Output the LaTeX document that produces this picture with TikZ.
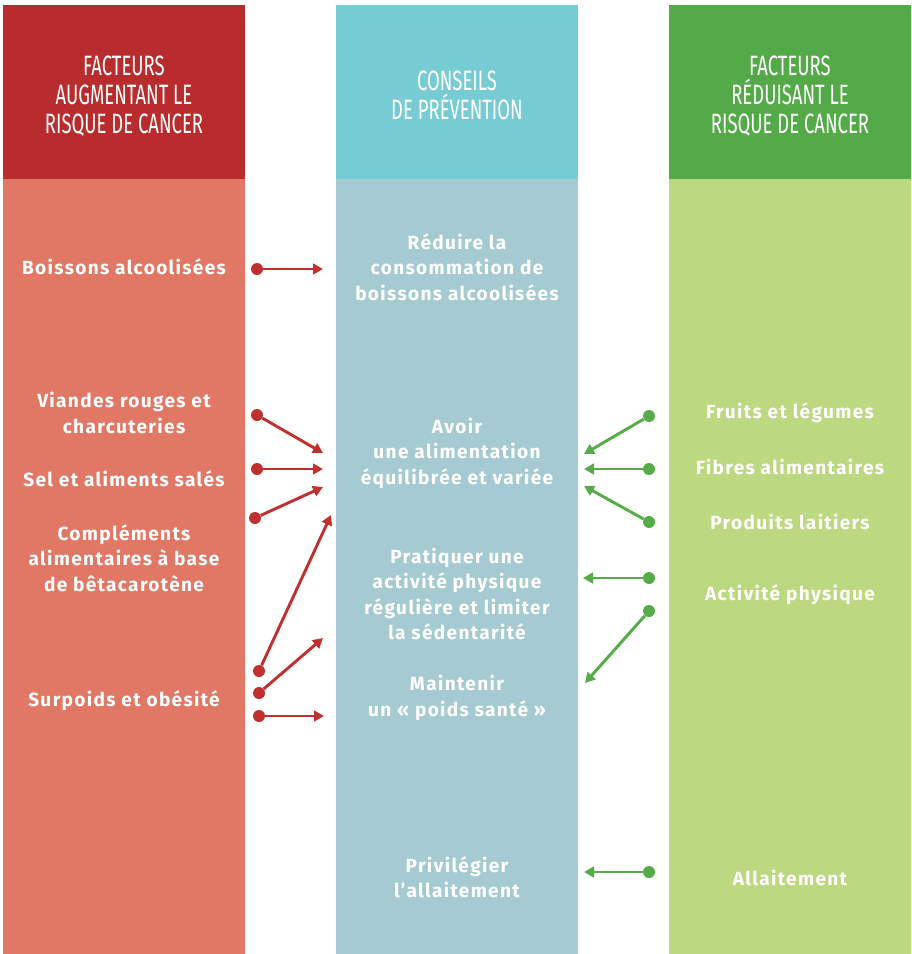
\documentclass[tikz,border=0pt]{standalone}
\usepackage{fontspec}
\setmainfont{Fira Sans}
\newfontfamily\headfont{Fira Sans}
\newfontfamily\bodyfont[LetterSpace=7]{Fira Sans Bold}
\usetikzlibrary{arrows.meta}
\definecolor{hdred}{HTML}{B82C2E}
\definecolor{bdred}{HTML}{E07865}
\definecolor{hdteal}{HTML}{77CCD3}
\definecolor{bdteal}{HTML}{A5CAD2}
\definecolor{hdgreen}{HTML}{54A948}
\definecolor{bdgreen}{HTML}{BCD880}
\definecolor{arred}{HTML}{C0302F}
\definecolor{argreen}{HTML}{55AC48}
\newcommand{\hdtxt}[1]{\scalebox{0.66}[1]{#1}}
\begin{document}
\begin{tikzpicture}[x=0.75pt,y=-0.75pt,
  headtext/.style={text=white,align=center,font=\headfont\fontsize{21}{21.75}\selectfont},
  bodytext/.style={text=white,align=center,font=\bodyfont\fontsize{14.3}{19.2}\selectfont},
  reddot/.style={circle,fill=arred,inner sep=0pt,minimum size=9pt},
  greendot/.style={circle,fill=argreen,inner sep=0pt,minimum size=9pt},
  redarrow/.style={draw=arred,line width=2.2pt,-{Triangle[length=7.5pt,width=8pt]}},
  greenarrow/.style={draw=argreen,line width=2.2pt,-{Triangle[length=7.5pt,width=8pt]}}]
\useasboundingbox (0,0) rectangle (912,954);
% columns
\fill[hdred] (3,5) rectangle (245,179);
\fill[bdred] (3,179) rectangle (245,954);
\fill[hdteal] (336,5) rectangle (578,179);
\fill[bdteal] (336,179) rectangle (578,954);
\fill[hdgreen] (669,5) rectangle (911,179);
\fill[bdgreen] (669,179) rectangle (911,954);
% headers
\node[headtext] (h1) at (124,96) {\hdtxt{FACTEURS}\\\hdtxt{AUGMENTANT LE}\\\hdtxt{RISQUE DE CANCER}};
\node[headtext] (h2) at (457,95) {\hdtxt{CONSEILS}\\\hdtxt{DE PRÉVENTION}};
\node[headtext] (h3) at (790,96) {\hdtxt{FACTEURS}\\\hdtxt{RÉDUISANT LE}\\\hdtxt{RISQUE DE CANCER}};
% left texts
\node[bodytext] (l1) at (124,267) {Boissons alcoolisées};
\node[bodytext] (l2) at (124,413) {Viandes rouges et\\charcuteries};
\node[bodytext] (l3) at (124,479) {Sel et aliments salés};
\node[bodytext] (l4) at (124,558) {Compléments\\alimentaires à base\\de bêtacarotène};
\node[bodytext] (l5) at (124,701) {Surpoids et obésité};
% middle texts
\node[bodytext] (m1) at (457,267) {Réduire la\\consommation de\\boissons alcoolisées};
\node[bodytext] (m2) at (457,453) {Avoir\\une alimentation\\équilibrée et variée};
\node[bodytext] (m3) at (457,594) {Pratiquer une\\activité physique\\régulière et limiter\\la sédentarité};
\node[bodytext] (m4) at (457,698) {Maintenir\\un « poids santé »};
\node[bodytext] (m5) at (457,877) {Privilégier\\l’allaitement};
% right texts
\node[bodytext] (g1) at (790,413) {Fruits et légumes};
\node[bodytext] (g2) at (790,467) {Fibres alimentaires};
\node[bodytext] (g3) at (790,522) {Produits laitiers};
\node[bodytext] (g4) at (790,595) {Activité physique};
\node[bodytext] (g5) at (790,878) {Allaitement};
% red arrows
\node[reddot] (rs1) at (257,269) {};
\node[reddot] (rs2) at (257,415) {};
\node[reddot] (rs3) at (257,469) {};
\node[reddot] (rs4) at (255,518) {};
\node[reddot] (rs5) at (259,671) {};
\node[reddot] (rs6) at (259,693) {};
\node[reddot] (rs7) at (259,716) {};
\coordinate (re1) at (323,269);
\coordinate (re2) at (323,453);
\coordinate (re3) at (323,469);
\coordinate (re4) at (323,487);
\coordinate (re5) at (331,515);
\coordinate (re6) at (323,638);
\coordinate (re7) at (324,716);
\foreach \i in {1,...,7} \draw[redarrow] (rs\i) -- (re\i);
% green arrows
\node[greendot] (gs1) at (649,416) {};
\node[greendot] (gs2) at (649,469) {};
\node[greendot] (gs3) at (649,522) {};
\node[greendot] (gs4) at (649,578) {};
\node[greendot] (gs5) at (649,611) {};
\node[greendot] (gs6) at (649,872) {};
\coordinate (ge1) at (584,454);
\coordinate (ge2) at (584,469);
\coordinate (ge3) at (584,486);
\coordinate (ge4) at (583,578);
\coordinate (ge5) at (585,683);
\coordinate (ge6) at (584,872);
\foreach \i in {1,...,6} \draw[greenarrow] (gs\i) -- (ge\i);
\end{tikzpicture}
\end{document}
